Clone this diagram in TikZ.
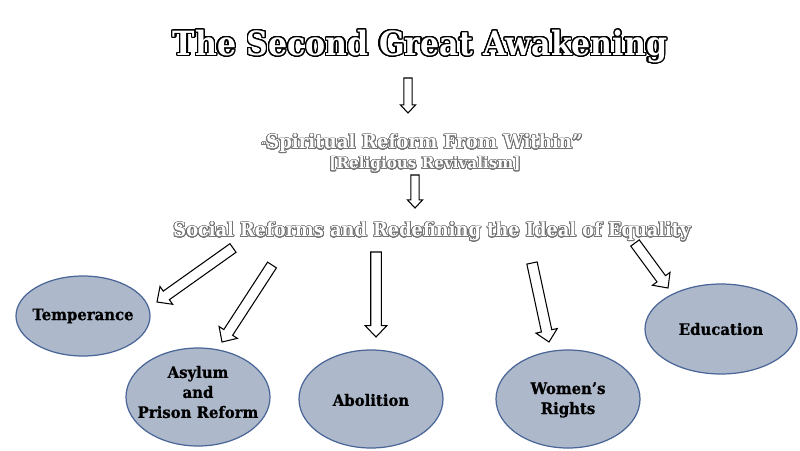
\documentclass[tikz,border=0pt]{standalone}
\usepackage{fontspec}
\setmainfont{DejaVu Serif}
\usepackage{contour}
\usetikzlibrary{calc}
\contournumber{32}
\definecolor{reformfill}{HTML}{ADB9CA}
\definecolor{reformline}{HTML}{4A6698}
\def\blockarrow[#1:#2:#3](#4)(#5){%
	\coordinate (ha) at ($(#5)!#3!(#4)$);
	\draw[fill=white, line width=0.6pt, line join=miter] ($(#4)!#1!90:(#5)$) -- ($(ha)!#1!-90:(#4)$) -- ($(ha)!#2!-90:(#4)$) -- (#5) -- ($(ha)!#2!90:(#4)$) -- ($(ha)!#1!90:(#4)$) -- ($(#4)!#1!-90:(#5)$) -- cycle;}

\begin{document}
\begin{tikzpicture}[x=0.02cm, y=-0.02cm,
		reform/.style={draw=reformline, fill=reformfill, line width=0.7pt},
		reformtext/.style={inner sep=0pt, align=center, font=\fontsize{9}{11.4}\selectfont\bfseries\addfontfeature{FakeStretch=0.94, FakeBold=0.8}}]
				\useasboundingbox (0, 0) rectangle (800, 450);
				
				% headings
				\contourlength{0.7pt}
				\node (awakening) at (420, 47) {\fontsize{19}{22}\selectfont\bfseries\addfontfeature{FakeStretch=0.9}\contour{black}{\textcolor{white}{The Second Great Awakening}}};
				\contourlength{0.45pt}
				\node (spiritual) at (422, 144) {\fontsize{11}{13}\selectfont\bfseries\addfontfeature{FakeStretch=0.94}\contour{black!55}{\textcolor{white}{{\tiny“}Spiritual Reform From Within”}}};
				\node (revival) at (425, 165) {\fontsize{9}{11}\selectfont\bfseries\addfontfeature{FakeStretch=0.96}\contour{black!55}{\textcolor{white}{[Religious Revivalism]}}};
				\node (social) at (432, 232) {\fontsize{11}{13}\selectfont\bfseries\addfontfeature{FakeStretch=0.92}\contour{black!55}{\textcolor{white}{Social Reforms and Redefining the Ideal of Equality}}};
				
				% reforms
				\draw[reform] (83, 316) ellipse (67 and 40);
				\node[reformtext] (temperance) at (83, 316) {Temperance};
				\draw[reform] (198, 397) ellipse (72 and 49);
				\node[reformtext] (asylum) at (198, 392) {Asylum\\and\\Prison Reform};
				\draw[reform] (371, 399) ellipse (72 and 49);
				\node[reformtext] (abolition) at (371, 400) {Abolition};
				\draw[reform] (568, 399) ellipse (72 and 49);
				\node[reformtext] (women) at (568, 400) {Women’s\\Rights};
				\draw[reform] (721, 329) ellipse (76 and 45);
				\node[reformtext] (education) at (721, 329) {Education};
				
				% arrow ends
				\coordinate (awakeTail) at (408, 78);
				\coordinate (awakeTip) at (408, 113);
				\coordinate (reviveTail) at (415, 175);
				\coordinate (reviveTip) at (415, 208);
				\coordinate (tempTail) at (233, 248);
				\coordinate (tempTip) at (157, 302);
				\coordinate (asylumTail) at (272, 265);
				\coordinate (asylumTip) at (222, 342);
				\coordinate (abolTail) at (376, 252);
				\coordinate (abolTip) at (376, 337);
				\coordinate (womenTail) at (532, 263);
				\coordinate (womenTip) at (549, 342);
				\coordinate (eduTail) at (635, 243);
				\coordinate (eduTip) at (668, 288);
				
				\blockarrow[2.3pt:4.3pt:4.6pt](awakeTail)(awakeTip)
				\blockarrow[2.3pt:4.3pt:4.6pt](reviveTail)(reviveTip)
				\blockarrow[3pt:6.2pt:6.5pt](tempTail)(tempTip)
				\blockarrow[3pt:6.2pt:6.5pt](asylumTail)(asylumTip)
				\blockarrow[3pt:6.2pt:6.5pt](abolTail)(abolTip)
				\blockarrow[3pt:6.2pt:6.5pt](womenTail)(womenTip)
				\blockarrow[3pt:6.2pt:6.5pt](eduTail)(eduTip)
			\end{tikzpicture}
\end{document}
